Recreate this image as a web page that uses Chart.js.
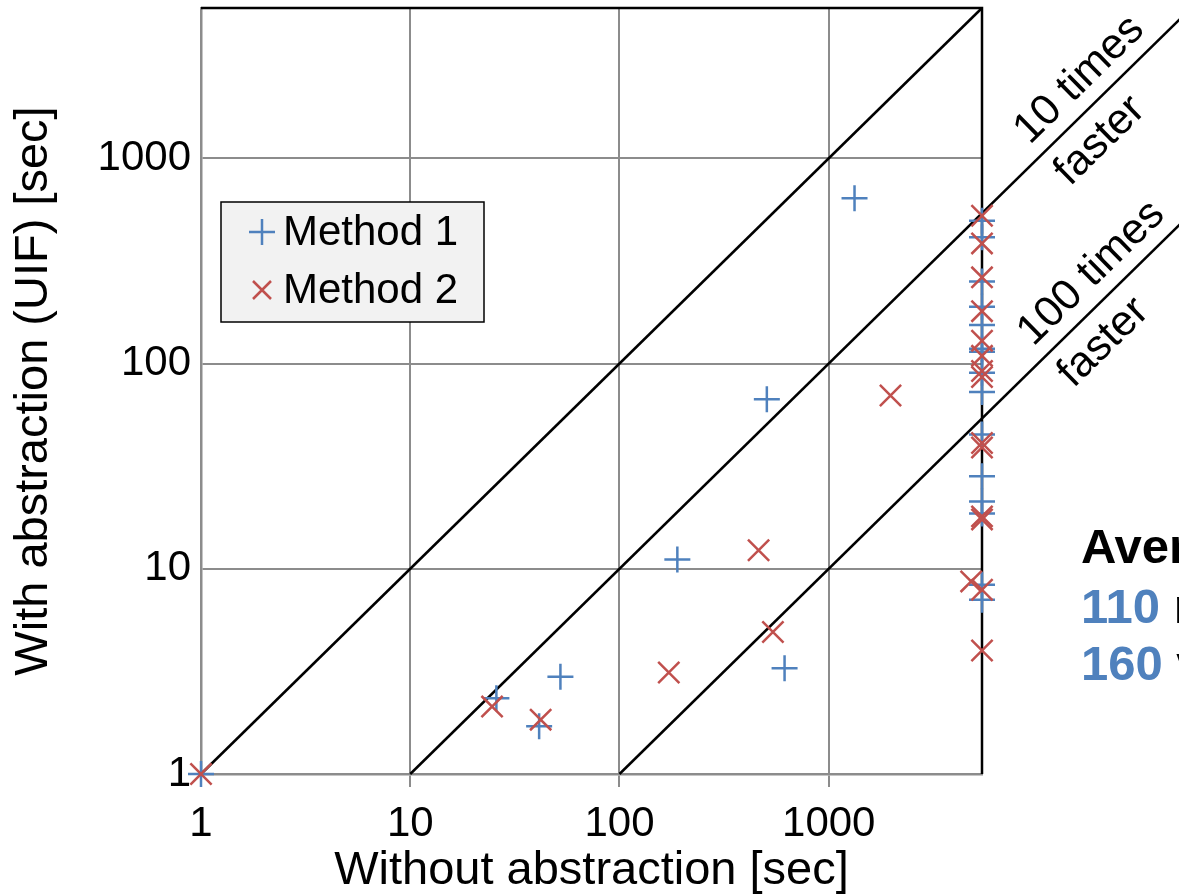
<!DOCTYPE html>
<html>
<head>
<meta charset="utf-8">
<script src="https://cdn.jsdelivr.net/npm/chart.js@4.4.1/dist/chart.umd.min.js"></script>
<style>
  body { margin: 0; background: #fff; }
  #wrap { width: 1179px; height: 895px; position: relative; overflow: hidden; }
</style>
</head>
<body>
<div id="wrap"><canvas id="scatter-chart"></canvas></div>
<script>
/////////---------DATA--------////////////////
// both axes in seconds, timeout = 5400 s
const axisMin = 1;
const axisMax = 5400;
const tickValues = [1, 10, 100, 1000];

const seriesNames = ["Method 1", "Method 2"];

// Method 1
const method1X = [1, 25.8, 41.3, 52.2, 189, 615, 506, 1328,
  5400, 5400, 5400, 5400, 5400, 5400, 5400, 5400, 5400, 5400, 5400, 5400, 5400, 5400, 5400];
const method1Y = [1, 2.34, 1.71, 2.98, 11.1, 3.28, 66.9, 638,
  496, 412, 251, 189, 154, 118, 114, 90.3, 72.6, 45.1, 28.2, 21.3, 18.6, 8.36, 7.07];

// Method 2
const method2X = [1, 24.6, 42.0, 172, 462, 541, 1973, 4793,
  5400, 5400, 5400, 5400, 5400, 5400, 5400, 5400, 5400, 5400, 5400, 5400, 5400, 5400];
const method2Y = [1, 2.13, 1.84, 3.12, 12.3, 4.92, 69.9, 8.68,
  525, 385, 263, 180, 129, 109, 92, 86, 41, 39, 18, 17.4, 7.9, 4.0];

// reference lines y = x / ratio
const speedRatios = [1, 10, 100];
const speedLineEnds = [5400, 50000, 50000];
const speedLabels = [null, ["10 times", "faster"], ["100 times", "faster"]];

const averageTitle = "Average";
const averageValues = ["110", "160"];
const averageWords = [" runs", " variants"];

const FONT = '"Liberation Sans", Arial, sans-serif';
const BLUE = "#4f81bd";
const RED = "#c0504d";

function toPoints(xs, ys) {
  return xs.map((x, i) => ({ x: x, y: ys[i] }));
}

/////////---------PLUGINS--------////////////////
// black top / right frame of the plot area
const frame = {
  id: "frame",
  beforeDatasetsDraw(chart) {
    const { ctx, chartArea: a } = chart;
    ctx.save();
    ctx.strokeStyle = "#000";
    ctx.lineWidth = 2.5;
    ctx.beginPath();
    ctx.moveTo(a.left, a.top);
    ctx.lineTo(a.right, a.top);
    ctx.lineTo(a.right, a.bottom);
    ctx.stroke();
    ctx.restore();
  },
};

const legendBox = {
  id: "legendBox",
  afterDatasetsDraw(chart) {
    const { ctx, chartArea: a } = chart;
    const bx = a.left + 20, by = a.top + 194, bw = 263, bh = 120;
    ctx.save();
    ctx.fillStyle = "#f2f2f2";
    ctx.fillRect(bx, by, bw, bh);
    ctx.strokeStyle = "#000";
    ctx.lineWidth = 1.5;
    ctx.strokeRect(bx, by, bw, bh);

    const mx = bx + 41;
    const rows = [by + 30, by + 88];
    ctx.lineWidth = 2.5;
    // plus
    ctx.strokeStyle = BLUE;
    ctx.beginPath();
    ctx.moveTo(mx - 13, rows[0]); ctx.lineTo(mx + 13, rows[0]);
    ctx.moveTo(mx, rows[0] - 13); ctx.lineTo(mx, rows[0] + 13);
    ctx.stroke();
    // cross
    ctx.strokeStyle = RED;
    ctx.beginPath();
    ctx.moveTo(mx - 9, rows[1] - 9); ctx.lineTo(mx + 9, rows[1] + 9);
    ctx.moveTo(mx + 9, rows[1] - 9); ctx.lineTo(mx - 9, rows[1] + 9);
    ctx.stroke();

    ctx.fillStyle = "#000";
    ctx.font = "42px " + FONT;
    ctx.textAlign = "left";
    ctx.textBaseline = "middle";
    seriesNames.forEach((name, i) => ctx.fillText(name, bx + 62, rows[i] + 1));
    ctx.restore();
  },
};

const annotations = {
  id: "annotations",
  afterDraw(chart) {
    const { ctx, chartArea: a, scales: { x, y } } = chart;
    const dx = x.getPixelForValue(10) - x.getPixelForValue(1);
    const dy = y.getPixelForValue(1) - y.getPixelForValue(10);
    const ang = Math.atan2(dy, dx);
    const ux = Math.cos(ang), uy = -Math.sin(ang);
    const px = Math.sin(ang), py = Math.cos(ang);
    const along = [null, [163, 135], [180, 140]];

    ctx.save();
    ctx.fillStyle = "#000";
    ctx.font = "43px " + FONT;
    ctx.textAlign = "center";
    ctx.textBaseline = "middle";
    speedRatios.forEach((k, i) => {
      if (!speedLabels[i]) return;
      const bx = x.getPixelForValue(axisMax);
      const by = y.getPixelForValue(axisMax / k);
      [-27, 31].forEach((off, j) => {
        ctx.save();
        ctx.translate(bx + ux * along[i][j] + px * off, by + uy * along[i][j] + py * off);
        ctx.rotate(-ang);
        ctx.fillText(speedLabels[i][j], 0, 0);
        ctx.restore();
      });
    });

    // average box (runs off the right edge)
    const tx = a.right + 99;
    ctx.textAlign = "left";
    ctx.textBaseline = "alphabetic";
    ctx.font = "bold 49px " + FONT;
    ctx.fillText(averageTitle, tx, a.top + 555);
    averageValues.forEach((v, i) => {
      const ty = a.top + 615 + i * 57;
      ctx.fillStyle = BLUE;
      ctx.fillText(v, tx, ty);
      const w = ctx.measureText(v).width;
      ctx.fillStyle = "#000";
      ctx.fillText(averageWords[i], tx + w, ty);
    });
    ctx.restore();
  },
};

/////////---------CHART--------////////////////
const lineDatasets = speedRatios.map((k, i) => ({
  label: k === 1 ? "same speed" : k + " times faster",
  data: [{ x: k, y: 1 }, { x: speedLineEnds[i], y: speedLineEnds[i] / k }],
  showLine: true,
  borderColor: "#000",
  borderWidth: 2.5,
  pointRadius: 0,
  clip: false,
  order: 3,
}));

new Chart(document.getElementById("scatter-chart"), {
  type: "scatter",
  data: {
    datasets: [
      {
        label: seriesNames[0],
        data: toPoints(method1X, method1Y),
        pointStyle: "cross",
        pointRadius: 13,
        borderColor: BLUE,
        backgroundColor: BLUE,
        borderWidth: 2.5,
        clip: false,
        order: 1,
      },
      {
        label: seriesNames[1],
        data: toPoints(method2X, method2Y),
        pointStyle: "crossRot",
        pointRadius: 15,
        borderColor: RED,
        backgroundColor: RED,
        borderWidth: 2.5,
        clip: false,
        order: 0,
      },
      ...lineDatasets,
    ],
  },
  options: {
    responsive: true,
    maintainAspectRatio: false,
    animation: false,
    layout: { autoPadding: false, padding: { top: 8, right: 197, left: 0, bottom: 0 } },
    plugins: {
      legend: { display: false },
      tooltip: { enabled: false },
    },
    scales: {
      x: {
        type: "logarithmic",
        min: axisMin,
        max: axisMax,
        afterBuildTicks: (scale) => { scale.ticks = tickValues.map((v) => ({ value: v })); },
        afterFit: (scale) => {
          scale.height = 121;
          scale.paddingLeft = 0;
          scale.paddingRight = 0;
        },
        ticks: {
          callback: (v) => String(v),
          font: { family: FONT, size: 42 },
          color: "#000",
          padding: 12,
          maxRotation: 0,
          autoSkip: false,
        },
        grid: { color: "#8c8c8c", lineWidth: 2, tickLength: 13 },
        border: { color: "#8c8c8c", width: 2.5 },
        title: {
          display: true,
          text: "Without abstraction [sec]",
          font: { family: FONT, size: 47, lineHeight: 1 },
          color: "#000",
          padding: { top: 0, bottom: 0 },
        },
      },
      y: {
        type: "logarithmic",
        min: axisMin,
        max: axisMax,
        afterBuildTicks: (scale) => { scale.ticks = tickValues.map((v) => ({ value: v })); },
        afterFit: (scale) => {
          scale.width = 201;
          scale.paddingTop = 0;
          scale.paddingBottom = 0;
        },
        ticks: {
          callback: (v) => String(v),
          font: { family: FONT, size: 42 },
          color: "#000",
          padding: 10,
          autoSkip: false,
        },
        grid: { color: "#8c8c8c", lineWidth: 2, drawTicks: false },
        border: { color: "#8c8c8c", width: 2.5 },
        title: {
          display: true,
          text: "With abstraction (UIF) [sec]",
          font: { family: FONT, size: 47, lineHeight: 1 },
          color: "#000",
          padding: { top: 11, bottom: 0 },
        },
      },
    },
  },
  plugins: [frame, legendBox, annotations],
});
</script>
</body>
</html>
